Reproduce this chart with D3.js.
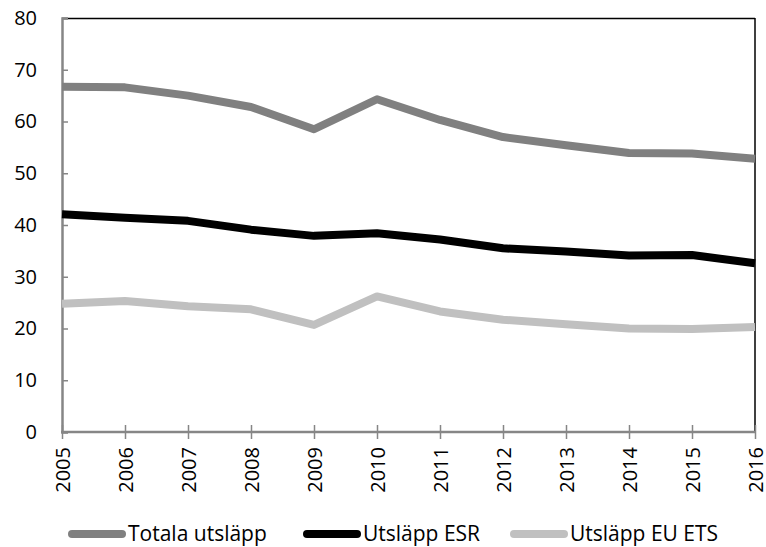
<!DOCTYPE html>
<html><head><meta charset="utf-8">
<script src="https://cdn.jsdelivr.net/npm/d3@7"></script>
<style>body{margin:0;background:#fff}svg{display:block}</style>
</head><body>
<script>
const years = [2005,2006,2007,2008,2009,2010,2011,2012,2013,2014,2015,2016];
const totala = [66.7,66.6,65.0,62.8,58.5,64.3,60.3,57.0,55.4,53.9,53.8,52.8];
const esr = [42.1,41.4,40.8,39.1,37.9,38.4,37.2,35.5,34.9,34.1,34.2,32.6];
const ets = [24.8,25.3,24.3,23.7,20.7,26.2,23.3,21.7,20.8,20.0,19.9,20.3];
const yTicks = [0,10,20,30,40,50,60,70,80];
const seriesNames = ["Totala utsläpp","Utsläpp ESR","Utsläpp EU ETS"];
const seriesColors = ["#808080","#000000","#c0c0c0"];
const seriesData = [totala, esr, ets];

const W=766,H=547;
const svg=d3.select("body").append("svg").attr("width",W).attr("height",H);
const font="'Open Sans', sans-serif";
const x=d3.scaleLinear().domain([2005,2016]).range([62,755]);
const y=d3.scaleLinear().domain([0,80]).range([432,18]);

// top & right border
svg.append("line").attr("x1",62).attr("x2",755).attr("y1",18.5).attr("y2",18.5).attr("stroke","#000").attr("stroke-width",1.5);
svg.append("line").attr("x1",755).attr("x2",755).attr("y1",18).attr("y2",432).attr("stroke","#000").attr("stroke-width",1.5);

// y axis
const ya=svg.append("g").attr("transform","translate(62,0)")
  .call(d3.axisRight(y).tickValues(yTicks).tickSize(6).tickFormat(d3.format("d")));
ya.select(".domain").attr("stroke","#868686").attr("stroke-width",2.5);
ya.selectAll(".tick line").attr("stroke","#868686").attr("stroke-width",1.5);
ya.selectAll(".tick text").attr("x",-25).attr("text-anchor","end").attr("fill","#000")
  .style("font-family",font).style("font-size","20px");

// x axis
const xa=svg.append("g").attr("transform","translate(0,432)")
  .call(d3.axisBottom(x).tickValues(years).tickSize(7).tickFormat(d3.format("d")));
xa.select(".domain").remove();
xa.selectAll(".tick line").attr("y1",-7).attr("y2",7).attr("stroke","#868686").attr("stroke-width",1.5);
xa.selectAll(".tick text").attr("transform","rotate(-90)").attr("x",-15).attr("y",0).attr("dy","0.36em")
  .attr("text-anchor","end").attr("fill","#000").style("font-family",font).style("font-size","20px");
svg.append("line").attr("x1",61).attr("x2",755).attr("y1",432).attr("y2",432).attr("stroke","#868686").attr("stroke-width",2.5);

// lines
const line=d3.line().x((d,i)=>x(years[i])).y(d=>y(d));
seriesData.forEach((s,k)=>{
  svg.append("path").datum(s).attr("d",line).attr("fill","none")
    .attr("stroke",seriesColors[k]).attr("stroke-width",8).attr("stroke-linejoin","round");
});

// legend
const legX=[68,303,510];
const leg=svg.append("g");
seriesNames.forEach((n,k)=>{
  leg.append("line").attr("x1",legX[k]+4).attr("x2",legX[k]+54).attr("y1",534).attr("y2",534)
    .attr("stroke",seriesColors[k]).attr("stroke-width",8).attr("stroke-linecap","round");
  leg.append("text").attr("x",legX[k]+60).attr("y",533).attr("dy","0.36em").text(n)
    .style("font-family",font).style("font-size","21px").attr("fill","#000");
});
</script>
</body></html>
